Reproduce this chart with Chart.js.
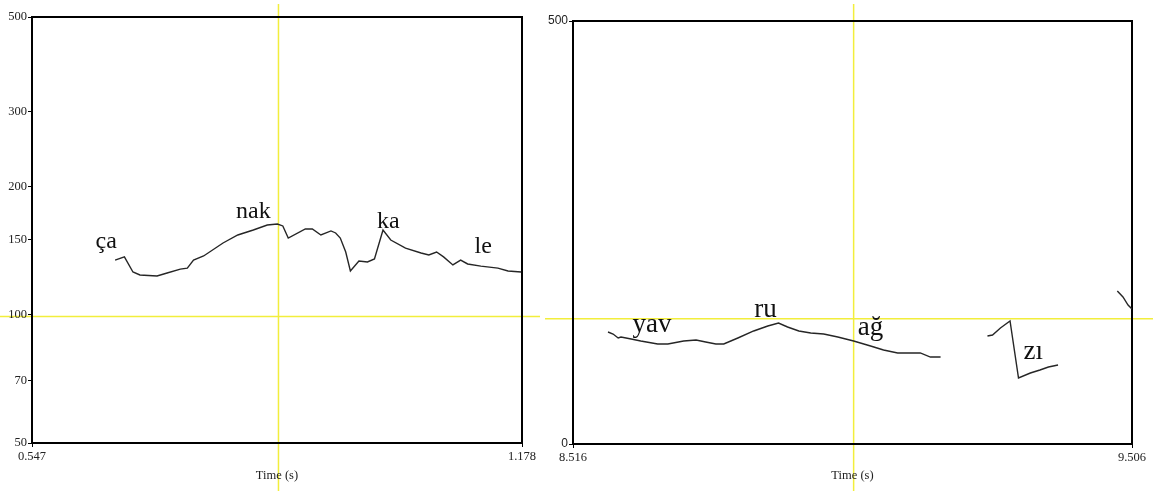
<!DOCTYPE html>
<html>
<head>
<meta charset="utf-8">
<script src="https://cdn.jsdelivr.net/npm/chart.js@4.4.1/dist/chart.umd.min.js"></script>
<style>
  html, body { margin: 0; padding: 0; background: #fff; }
  #wrap { position: relative; width: 1153px; height: 491px; overflow: hidden; }
  canvas { position: absolute; top: 0; }
  #left { left: 0; }
  #right { left: 540px; }
</style>
</head>
<body>
<div id="wrap">
  <canvas id="left" width="545" height="491"></canvas>
  <canvas id="right" width="613" height="491"></canvas>
</div>
<script>
// ---- Utterance 1: "çanakkale" (pitch in Hz, log axis) ----
const leftTimes = [0.654, 0.666, 0.677, 0.686, 0.708, 0.721, 0.738, 0.747, 0.755, 0.768,
  0.793, 0.812, 0.832, 0.850, 0.863, 0.870, 0.877, 0.899, 0.908, 0.919,
  0.932, 0.938, 0.944, 0.951, 0.957, 0.968, 0.979, 0.988, 0.999, 1.009,
  1.028, 1.048, 1.058, 1.068, 1.077, 1.089, 1.099, 1.108, 1.125, 1.147,
  1.160, 1.177];
const leftHz = [134.4, 136.7, 126.0, 124.0, 123.3, 125.3, 128.0, 128.7, 134.4, 137.4,
  147.4, 153.9, 158.1, 162.4, 163.3, 161.6, 151.4, 159.0, 159.0, 153.9,
  157.3, 155.6, 151.4, 140.4, 126.7, 133.7, 133.0, 135.2, 158.1, 149.8,
  143.4, 139.6, 138.2, 140.4, 136.7, 130.9, 134.4, 131.6, 130.1, 128.7,
  126.7, 126.0];
const leftRange = [0.547, 1.178];
const leftHzTicks = [50, 70, 100, 150, 200, 300, 500];
const leftSyllables = ['ça', 'nak', 'ka', 'le'];
const leftSyllableTimes = [0.6425, 0.832, 1.006, 1.128];
const leftSyllableHz = [143.4, 168.8, 159.8, 139.6];
const leftCursor = { time: 0.8644, hz: 99 };

// ---- Utterance 2: "yavru ağzı" (pitch in Hz, linear axis), three voiced stretches ----
const rightTimesA = [8.578, 8.587, 8.596, 8.601, 8.619, 8.636, 8.666, 8.684, 8.712, 8.734,
  8.751, 8.769, 8.783, 8.808, 8.836, 8.861, 8.880, 8.896, 8.916, 8.937,
  8.960, 8.985, 9.013, 9.043, 9.066, 9.091, 9.131, 9.149, 9.167];
const rightHzA = [132.4, 130.0, 125.3, 126.5, 124.1, 121.7, 118.2, 118.2, 121.7, 122.9,
  120.6, 118.2, 118.2, 125.3, 133.6, 139.5, 143.0, 138.3, 133.6, 131.2,
  130.0, 126.5, 121.7, 115.8, 111.1, 107.6, 107.6, 102.8, 102.8];
const rightTimesB = [9.250, 9.259, 9.273, 9.290, 9.305, 9.326, 9.343, 9.358, 9.375];
const rightHzB = [127.7, 128.8, 137.1, 145.4, 78.0, 83.9, 87.5, 91.0, 93.4];
const rightTimesC = [9.480, 9.490, 9.499, 9.506];
const rightHzC = [180.9, 173.8, 164.3, 159.6];
const rightRange = [8.516, 9.506];
const rightHzTicks = [0, 500];
const rightSyllables = ['yav', 'ru', 'ağ', 'zı'];
const rightSyllableTimes = [8.656, 8.857, 9.043, 9.331];
const rightSyllableHz = [132.4, 150.1, 128.8, 100.5];
const rightCursor = { time: 9.013, hz: 148 };

const SERIF = 'Liberation Serif';
const INK = '#222';
const CURVE = '#262626';
const CURSOR = '#f2ee3c';

function points(ts, hs) { return ts.map((t, i) => ({ x: t, y: hs[i] })); }

// Yellow crosshair drawn behind everything, spanning past the frame
const cursorPlugin = {
  id: 'cursor',
  beforeDraw(chart, args, o) {
    const { ctx } = chart;
    const px = chart.scales.x.getPixelForValue(o.time);
    const py = chart.scales.y.getPixelForValue(o.hz);
    ctx.save();
    ctx.strokeStyle = CURSOR;
    ctx.lineWidth = 1.5;
    ctx.beginPath();
    ctx.moveTo(px, o.top); ctx.lineTo(px, chart.height);
    ctx.moveTo(o.from, py); ctx.lineTo(o.to, py);
    ctx.stroke();
    ctx.restore();
  }
};

// Black box round the plot area
const framePlugin = {
  id: 'frame',
  beforeDatasetsDraw(chart) {
    const { ctx, chartArea: a } = chart;
    ctx.save();
    ctx.strokeStyle = '#000';
    ctx.lineWidth = 2;
    ctx.strokeRect(a.left, a.top, a.right - a.left, a.bottom - a.top);
    ctx.restore();
  }
};

// Syllable text placed at (time, Hz)
const syllablePlugin = {
  id: 'syllables',
  afterDatasetsDraw(chart, args, o) {
    const { ctx } = chart;
    ctx.save();
    ctx.font = o.size + 'px "' + SERIF + '"';
    ctx.fillStyle = '#111';
    ctx.textAlign = 'center';
    ctx.textBaseline = 'alphabetic';
    for (let i = 0; i < o.labels.length; i++) {
      ctx.fillText(o.labels[i],
        chart.scales.x.getPixelForValue(o.times[i]),
        chart.scales.y.getPixelForValue(o.hz[i]));
    }
    ctx.restore();
  }
};

function xAxis(range, h) {
  return {
    type: 'linear', min: range[0], max: range[1],
    afterBuildTicks: s => { s.ticks = [{ value: range[0] }, { value: range[1] }]; },
    afterFit: s => { s.height = h; },
    ticks: { callback: v => Number(v).toFixed(3), color: INK, autoSkip: false, maxRotation: 0,
      padding: 2, font: { family: SERIF, size: 12.5 } },
    grid: { drawOnChartArea: false, drawTicks: true, tickLength: 4, color: '#000', lineWidth: 1 },
    border: { display: false },
    title: { display: true, text: 'Time (s)', color: INK, font: { family: SERIF, size: 12.5 },
      padding: { top: 0, bottom: 8 } }
  };
}

function yAxis(type, tickVals, w, family, size) {
  return {
    type, min: tickVals[0], max: tickVals[tickVals.length - 1],
    afterBuildTicks: s => { s.ticks = tickVals.map(v => ({ value: v })); },
    afterFit: s => { s.width = w; },
    ticks: { callback: v => String(v), color: INK, autoSkip: false, padding: 1,
      font: { family, size } },
    grid: { drawOnChartArea: false, drawTicks: true, tickLength: 4, color: '#000', lineWidth: 1 },
    border: { display: false }
  };
}

function lineSet(ts, hs) {
  return { data: points(ts, hs), borderColor: CURVE, borderWidth: 1.4, pointRadius: 0,
    tension: 0, fill: false, spanGaps: false };
}

const common = {
  responsive: false, animation: false,
  events: []
};

new Chart(document.getElementById('left'), {
  type: 'line',
  data: { datasets: [lineSet(leftTimes, leftHz)] },
  options: Object.assign({}, common, {
    layout: { padding: { top: 17, right: 23, left: 0, bottom: 0 } },
    scales: {
      x: xAxis(leftRange, 48),
      y: yAxis('logarithmic', leftHzTicks, 32, SERIF, 12.5)
    },
    plugins: {
      legend: { display: false }, tooltip: { enabled: false },
      cursor: { time: leftCursor.time, hz: leftCursor.hz, top: 4, from: 0, to: 540 },
      syllables: { labels: leftSyllables, times: leftSyllableTimes, hz: leftSyllableHz, size: 24 }
    }
  }),
  plugins: [cursorPlugin, framePlugin, syllablePlugin]
});

new Chart(document.getElementById('right'), {
  type: 'line',
  data: { datasets: [
    lineSet(rightTimesA, rightHzA),
    lineSet(rightTimesB, rightHzB),
    lineSet(rightTimesC, rightHzC)
  ] },
  options: Object.assign({}, common, {
    layout: { padding: { top: 21, right: 21, left: 0, bottom: 0 } },
    scales: {
      x: xAxis(rightRange, 47),
      y: yAxis('linear', rightHzTicks, 33, 'Liberation Sans', 12)
    },
    plugins: {
      legend: { display: false }, tooltip: { enabled: false },
      cursor: { time: rightCursor.time, hz: rightCursor.hz, top: 4, from: 5, to: 613 },
      syllables: { labels: rightSyllables, times: rightSyllableTimes, hz: rightSyllableHz, size: 27 }
    }
  }),
  plugins: [cursorPlugin, framePlugin, syllablePlugin]
});
</script>
</body>
</html>
